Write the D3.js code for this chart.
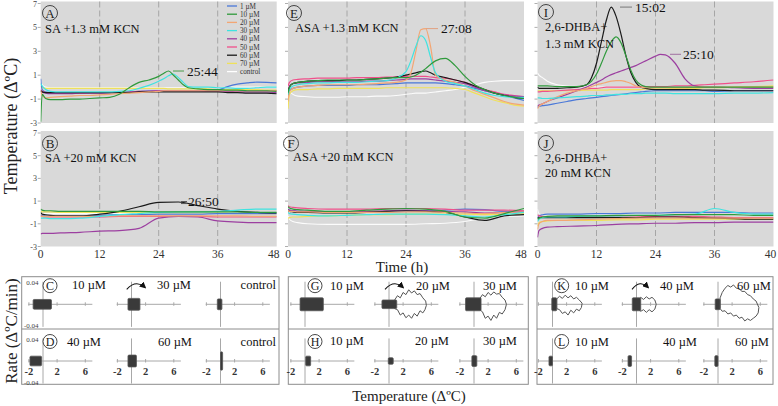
<!DOCTYPE html>
<html><head><meta charset="utf-8">
<script src="https://cdn.jsdelivr.net/npm/d3@7"></script>
<style>body{margin:0;background:#fff}svg{display:block}text{font-family:"Liberation Serif","Times New Roman",serif}</style>
</head><body><svg id="c" width="778" height="406"></svg>
<script>
// ---------- DATA ----------
const seriesNames = ["1 µM","10 µM","20 µM","30 µM","40 µM","50 µM","60 µM","70 µM","control"];
const seriesColors = ["#4a78d8","#2f9a3c","#f3a673","#3fe3e0","#9c3fa0","#f0508a","#1a1a1a","#efe15a","#ffffff"];
const timeFine = [0,0.3,1,2,4,6,8,10,12,14,16,18,20,22,24,25,26,27,28,29,30,32,34,36,38,40,42,44,46,48];
const timeCoarse = [0,0.3,1,2,4,8,12,16,20,24,28,32,36,40,44,48];
const timeI = [0,0.3,1,2,4,6,8,10,11,12,13,14,15,16,17,18,19,20,21,22,24,25,26,28,30,32,34,36,40,44,48];
const xTickValues = [0,12,24,36,48];
const xTickLabelsAB = ["0","12","24","36","48"];
const xTickLabelsIJ = ["0","12","24","36","40"];
const yTickValues = [7,5,3,1,-1,-3];

const valuesA = [
 [0.7,-0.2,-0.4,-0.45,-0.45,-0.45,-0.45,-0.45,-0.45,-0.45,-0.4,-0.4,-0.35,-0.3,-0.3,-0.3,-0.3,-0.3,-0.3,-0.3,-0.3,-0.3,-0.3,-0.25,0.05,0.25,0.35,0.42,0.4,0.35],
 [-2.9,-0.6,-0.95,-1.05,-1.05,-1.0,-1.0,-0.95,-0.9,-0.85,-0.6,-0.05,0.4,0.6,0.9,1.15,1.35,1.0,0.6,0.2,-0.05,-0.15,-0.2,-0.2,-0.25,-0.25,-0.3,-0.3,-0.3,-0.35],
 [-0.3,-0.7,-0.9,-0.85,-0.8,-0.75,-0.7,-0.7,-0.65,-0.6,-0.55,-0.5,-0.45,-0.4,-0.35,-0.3,-0.3,-0.3,-0.3,-0.3,-0.3,-0.3,-0.3,-0.3,-0.3,-0.3,-0.3,-0.3,-0.3,-0.3],
 [0.3,0.1,-0.2,-0.35,-0.4,-0.4,-0.4,-0.4,-0.4,-0.4,-0.35,-0.3,-0.1,0.15,0.5,0.7,0.95,1.1,0.8,0.4,0.05,0,0,-0.05,-0.05,-0.1,-0.1,-0.05,0,0],
 [-0.3,-0.4,-0.5,-0.55,-0.55,-0.55,-0.5,-0.5,-0.5,-0.45,-0.45,-0.4,-0.4,-0.35,-0.3,-0.3,-0.3,-0.3,-0.3,-0.3,-0.3,-0.3,-0.35,-0.35,-0.35,-0.4,-0.4,-0.4,-0.4,-0.45],
 [-0.2,-0.35,-0.45,-0.5,-0.5,-0.5,-0.5,-0.45,-0.45,-0.45,-0.4,-0.4,-0.35,-0.35,-0.3,-0.3,-0.3,-0.3,-0.3,-0.3,-0.3,-0.3,-0.3,-0.3,-0.3,-0.3,-0.3,-0.3,-0.3,-0.3],
 [-0.3,-0.4,-0.45,-0.45,-0.45,-0.45,-0.45,-0.45,-0.45,-0.45,-0.45,-0.45,-0.4,-0.4,-0.4,-0.4,-0.4,-0.4,-0.4,-0.4,-0.4,-0.4,-0.4,-0.4,-0.45,-0.45,-0.5,-0.5,-0.5,-0.55],
 [0.1,0,-0.1,-0.1,-0.1,-0.1,-0.1,-0.1,-0.1,-0.1,-0.1,-0.1,-0.1,-0.1,-0.1,-0.1,-0.15,-0.15,-0.15,-0.15,-0.15,-0.15,-0.15,-0.2,-0.2,-0.2,-0.2,-0.2,-0.25,-0.25],
 [0.5,0.2,0,-0.05,-0.05,-0.05,-0.05,-0.05,-0.05,-0.05,-0.05,-0.05,-0.05,-0.05,-0.05,-0.05,-0.05,-0.05,-0.05,-0.05,-0.05,-0.05,-0.05,-0.05,0,0,0,0,0,0]
];
const valuesB = [
 [-0.2,-0.3,-0.3,-0.3,-0.3,-0.3,-0.25,-0.2,-0.2,-0.15,-0.15,-0.15,-0.1,-0.1,-0.1,-0.1],
 [0.3,0.2,0.15,0.15,0.1,0.1,0.1,0.1,0.1,0.05,0.05,0.05,0.05,0.05,0,0],
 [-0.3,-0.35,-0.35,-0.35,-0.35,-0.35,-0.35,-0.3,-0.3,-0.3,-0.3,-0.3,-0.3,-0.3,-0.35,-0.35],
 [-0.5,-0.5,-0.5,-0.55,-0.55,-0.5,-0.35,-0.2,-0.1,0,0.05,0.05,0.1,0.2,0.3,0.3],
 [-1.9,-1.85,-1.85,-1.85,-1.8,-1.75,-1.65,-1.6,-1.4,-0.5,-0.35,-0.4,-0.75,-0.85,-0.9,-0.9],
 [-0.3,-0.35,-0.4,-0.4,-0.4,-0.4,-0.4,-0.35,-0.35,-0.35,-0.35,-0.35,-0.4,-0.4,-0.4,-0.4],
 [0,-0.15,-0.2,-0.25,-0.3,-0.3,-0.15,0.1,0.5,0.88,0.92,0.6,0.3,0.1,0,-0.05],
 [0.1,0.05,0.05,0.05,0,0,0,0,0,-0.05,-0.05,-0.05,-0.05,-0.1,-0.1,-0.1],
 [-0.1,-0.1,-0.1,-0.1,-0.1,-0.1,-0.1,-0.1,-0.1,-0.1,-0.1,-0.1,-0.1,-0.1,-0.1,-0.1]
];
const valuesE = [
 [-0.8,-0.3,-0.1,0,0.1,0.15,0.15,0.15,0.15,0.2,0.2,0.2,0.25,0.3,0.35,0.35,0.35,0.35,0.35,0.35,0.35,0.3,0.2,0.1,-0.1,-0.3,-0.5,-0.7,-0.9,-1.1],
 [-0.5,0,0.3,0.4,0.5,0.55,0.6,0.6,0.6,0.6,0.65,0.7,0.75,0.8,0.8,0.85,1.0,1.25,1.55,1.9,2.2,2.4,1.8,0.9,0.2,-0.2,-0.5,-0.7,-0.85,-0.95],
 [-1.2,-0.4,-0.1,0,0.1,0.15,0.2,0.2,0.2,0.2,0.25,0.3,0.35,0.4,0.6,1.2,3.0,4.8,4.9,3.4,1.0,0.6,0.4,0.1,-0.3,-0.6,-0.9,-1.2,-1.4,-1.5],
 [-0.6,-0.2,0.1,0.2,0.3,0.35,0.35,0.4,0.4,0.4,0.45,0.5,0.55,0.75,1.3,2.2,3.4,4.3,3.9,2.5,1.2,0.5,0.3,0.1,-0.2,-0.5,-0.7,-0.8,-0.85,-0.85],
 [-0.3,0.1,0.3,0.35,0.4,0.45,0.45,0.45,0.45,0.45,0.5,0.5,0.55,0.6,0.65,0.7,0.7,0.7,0.7,0.65,0.6,0.5,0.4,0.3,0,-0.3,-0.5,-0.65,-0.75,-0.8],
 [0.1,0.4,0.6,0.65,0.7,0.75,0.75,0.75,0.75,0.8,0.8,0.8,0.85,0.85,0.9,0.9,0.9,0.9,0.9,0.85,0.8,0.75,0.6,0.4,0.1,-0.2,-0.4,-0.6,-0.7,-0.8],
 [-0.6,0,0.3,0.4,0.5,0.55,0.55,0.55,0.6,0.6,0.65,0.7,0.75,0.85,1.0,1.1,1.2,1.3,1.35,1.2,1.0,0.8,0.6,0.4,0.1,-0.2,-0.5,-0.7,-0.85,-0.95],
 [-1.8,-0.6,-0.3,-0.2,-0.2,-0.15,-0.15,-0.1,-0.1,-0.1,-0.1,-0.1,-0.05,-0.05,-0.05,-0.05,-0.05,-0.05,-0.05,-0.05,-0.05,-0.05,-0.1,-0.2,-0.5,-0.8,-1.1,-1.3,-1.5,-1.6],
 [0.3,-0.3,-0.6,-0.75,-0.8,-0.85,-0.85,-0.85,-0.8,-0.8,-0.8,-0.75,-0.75,-0.7,-0.6,-0.55,-0.5,-0.5,-0.5,-0.45,-0.4,-0.3,-0.2,0,0.2,0.4,0.5,0.55,0.55,0.55]
];
const valuesF = [
 [0.3,0.2,0.15,0.1,0.1,0.05,0,0,0.05,0.1,0.15,0.2,0.3,0.25,0.1,0.1],
 [0.5,0.4,0.3,0.25,0.2,0.1,0.1,0.2,0.3,0.35,0.3,0.1,-0.4,-0.5,-0.1,0.35],
 [0.2,0.1,0.1,0.05,0.05,0,0,0,0,0.05,0.05,0,-0.05,-0.1,0,0.05],
 [0,-0.1,-0.15,-0.2,-0.25,-0.3,-0.25,-0.2,-0.15,-0.15,-0.15,-0.2,-0.3,-0.4,-0.2,0],
 [0.3,0.2,0.15,0.1,0.1,0.05,0.05,0.1,0.15,0.2,0.15,0.1,0.05,-0.05,0,0.05],
 [0.6,0.5,0.45,0.4,0.35,0.3,0.3,0.3,0.35,0.35,0.35,0.3,0.2,0.2,0.2,0.15],
 [0.2,0.1,0.05,0,0,-0.05,-0.05,0,0.1,0.15,0.1,0,-0.4,-0.7,-0.3,-0.2],
 [-0.5,-0.45,-0.4,-0.4,-0.35,-0.3,-0.25,-0.2,-0.2,-0.15,-0.15,-0.15,-0.15,-0.2,-0.15,-0.1],
 [-0.3,-0.6,-0.8,-0.9,-1.0,-1.05,-1.05,-1.05,-1.05,-1.05,-1.0,-0.95,-0.8,-0.5,-0.35,-0.3]
];
const valuesI = [
 [-1.7,-1.6,-1.55,-1.5,-1.35,-1.2,-1.05,-0.95,-0.9,-0.85,-0.8,-0.75,-0.7,-0.65,-0.6,-0.55,-0.5,-0.45,-0.4,-0.35,-0.3,-0.3,-0.3,-0.3,-0.3,-0.3,-0.3,-0.35,-0.3,-0.3,-0.3],
 [0.1,0.1,0.1,0.1,0.05,0.05,0.05,0.2,0.5,1.1,2.0,3.0,3.8,4.2,3.7,2.6,1.4,0.6,0.2,0.05,0,0,0,0,0,0,0,0,0,0,0],
 [-1.8,-1.6,-1.4,-1.2,-0.8,-0.5,-0.3,-0.1,0.05,0.2,0.3,0.4,0.5,0.55,0.55,0.45,0.3,0.1,0,-0.05,-0.05,-0.05,-0.05,-0.05,-0.05,0,0,0,0,0,0],
 [-0.9,-0.9,-0.95,-0.95,-0.9,-0.85,-0.8,-0.75,-0.7,-0.7,-0.7,-0.65,-0.65,-0.6,-0.6,-0.6,-0.55,-0.55,-0.55,-0.5,-0.5,-0.5,-0.5,-0.55,-0.55,-0.55,-0.55,-0.55,-0.5,-0.5,-0.45],
 [-1.6,-1.5,-1.4,-1.2,-0.9,-0.6,-0.3,0,0.2,0.4,0.6,0.85,1.05,1.2,1.35,1.5,1.65,1.8,2.0,2.2,2.6,2.75,2.7,2.0,0.7,0.1,0,0,-0.05,-0.1,-0.1],
 [-0.4,-0.4,-0.35,-0.35,-0.3,-0.25,-0.2,-0.15,-0.1,-0.1,-0.05,0,0,0,0,0,0,0,0,0.05,0.05,0.05,0.05,0.1,0.1,0.15,0.2,0.25,0.35,0.45,0.6],
 [0,-0.1,-0.1,-0.1,-0.1,-0.05,0,0.2,0.8,2.0,3.8,5.6,6.7,5.9,4.4,2.6,1.2,0.4,0,-0.1,-0.2,-0.2,-0.2,-0.2,-0.2,-0.2,-0.25,-0.25,-0.3,-0.3,-0.3],
 [-0.3,-0.3,-0.3,-0.3,-0.3,-0.3,-0.3,-0.25,-0.25,-0.25,-0.25,-0.25,-0.2,-0.2,-0.2,-0.2,-0.2,-0.2,-0.2,-0.15,-0.15,-0.15,-0.15,-0.1,-0.1,-0.1,-0.05,-0.05,0,0.05,0.1],
 [1.2,1.0,0.8,0.5,0.2,0.1,0.05,0,0,0,0,0,0,0,0,0,0,0,0,0,0,0,0,0,0,0,0,0,0,0,0]
];
const valuesJ = [
 [-0.5,-0.3,-0.2,-0.15,-0.15,-0.15,-0.1,-0.1,-0.05,-0.05,0,0,0,0,-0.05,-0.05],
 [-0.6,-0.5,-0.4,-0.35,-0.3,-0.3,-0.3,-0.25,-0.25,-0.25,-0.2,-0.2,-0.2,-0.2,-0.25,-0.25],
 [-1.5,-1.0,-0.8,-0.7,-0.7,-0.65,-0.6,-0.55,-0.5,-0.5,-0.5,-0.5,-0.5,-0.5,-0.5,-0.5],
 [-0.8,-0.6,-0.45,-0.4,-0.4,-0.35,-0.3,-0.3,-0.25,-0.25,-0.2,-0.15,0.35,0,-0.15,-0.15],
 [-2.2,-1.6,-1.4,-1.3,-1.25,-1.2,-1.15,-1.05,-1.0,-0.95,-0.95,-0.9,-0.9,-0.85,-0.85,-0.85],
 [-0.2,-0.3,-0.35,-0.4,-0.4,-0.4,-0.4,-0.4,-0.4,-0.35,-0.35,-0.35,-0.4,-0.45,-0.45,-0.45],
 [-0.5,-0.45,-0.45,-0.45,-0.45,-0.45,-0.45,-0.45,-0.45,-0.4,-0.4,-0.45,-0.5,-0.55,-0.6,-0.6],
 [-1.2,-0.9,-0.8,-0.75,-0.7,-0.7,-0.7,-0.65,-0.65,-0.6,-0.6,-0.6,-0.6,-0.6,-0.6,-0.6],
 [0.3,-0.1,-0.2,-0.2,-0.2,-0.2,-0.2,-0.2,-0.2,-0.2,-0.2,-0.2,-0.2,-0.2,-0.2,-0.2]
];

// phase portraits: dense blobs [Tmin, Tmax, rateMin, rateMax]
const blobsC = [[-1.4,1.2,-0.009,0.009],[-0.5,1.2,-0.011,0.011],[-0.45,0.2,-0.01,0.01]];
const blobsD = [[-1.85,-0.2,-0.009,0.009],[-0.5,0.7,-0.011,0.011],[0.0,0.3,-0.017,0.017]];
const blobsG = [[-0.7,2.6,-0.012,0.012],[-1.0,1.1,-0.008,0.008],[-1.2,1.0,-0.012,0.012]];
const blobsH = [[0.1,0.8,-0.009,0.009],[-0.1,0.6,-0.006,0.006],[-0.3,0.4,-0.01,0.01]];
const blobsK = [[-0.1,0.6,-0.012,0.012],[-0.6,0.6,-0.012,0.012],[-0.4,0.3,-0.01,0.01]];
const blobsL = [[-0.5,0,-0.009,0.009],[-1.2,-0.7,-0.01,0.01],[-0.45,0,-0.01,0.01]];
const loopG2 = [[0.8,0.008],[1.2,0.016],[1.6,0.012],[2.0,0.022],[2.4,0.018],[2.8,0.027],[3.2,0.021],[3.6,0.025],[4.0,0.018],[4.4,0.02],[4.8,0.012],[5.2,0.006],[5.3,-0.002],[5.1,-0.01],[4.8,-0.016],[4.4,-0.012],[4.0,-0.022],[3.6,-0.017],[3.2,-0.026],[2.8,-0.02],[2.4,-0.025],[2.0,-0.016],[1.6,-0.02],[1.2,-0.01],[0.8,-0.008]];
const loopG3 = [[0.8,0.01],[1.2,0.018],[1.6,0.014],[2.0,0.022],[2.4,0.017],[2.8,0.023],[3.2,0.019],[3.6,0.02],[4.0,0.013],[4.4,0.008],[4.6,0],[4.4,-0.01],[4.0,-0.018],[3.6,-0.015],[3.2,-0.026],[2.8,-0.02],[2.4,-0.03],[2.0,-0.022],[1.6,-0.026],[1.2,-0.014],[0.8,-0.01]];
const loopK1 = [[0.6,0.01],[1.0,0.015],[1.4,0.011],[1.8,0.017],[2.2,0.012],[2.6,0.016],[3.0,0.01],[3.4,0.013],[3.8,0.008],[4.2,0.002],[4.1,-0.006],[3.8,-0.012],[3.4,-0.009],[3.0,-0.016],[2.6,-0.011],[2.2,-0.02],[1.8,-0.014],[1.4,-0.017],[1.0,-0.01],[0.6,-0.008]];
const loopK2 = [[0.2,0.008],[0.6,0.013],[1.0,0.009],[1.4,0.014],[1.8,0.01],[2.2,0.013],[2.6,0.008],[2.8,0],[2.6,-0.009],[2.2,-0.014],[1.8,-0.01],[1.4,-0.015],[1.0,-0.01],[0.6,-0.013],[0.2,-0.008]];
const loopK3 = [[0.3,0.012],[0.6,0.022],[1.0,0.03],[1.4,0.035],[1.8,0.032],[2.2,0.036],[2.6,0.03],[3.0,0.029],[3.4,0.024],[3.8,0.024],[4.2,0.018],[4.6,0.016],[5.0,0.01],[5.4,0.006],[5.8,-0.006],[5.7,-0.016],[5.4,-0.022],[5.0,-0.026],[4.6,-0.03],[4.2,-0.027],[3.8,-0.031],[3.4,-0.024],[3.0,-0.026],[2.6,-0.02],[2.2,-0.022],[1.8,-0.016],[1.4,-0.018],[1.0,-0.012],[0.6,-0.013],[0.3,-0.008]];
const miniTickValues = [-2,2,6];
const miniRateTicks = [0.04,-0.04];

// ---------- DRAW ----------
const svg = d3.select("#c");
svg.append("rect").attr("width",778).attr("height",406).attr("fill","#fff");
const defs = svg.append("defs");
defs.append("marker").attr("id","arr").attr("viewBox","0 0 8 8").attr("refX",6).attr("refY",4)
  .attr("markerWidth",6).attr("markerHeight",6).attr("orient","auto")
  .append("path").attr("d","M0,0 L8,4 L0,8 z").attr("fill","#111");

const drawOrder = [8,7,0,5,4,6,2,3,1];
const colLeft = [40.7, 288, 537.5];
const colW = 236;
const rowGeom = [{top:1.5,bot:123,y7:3.5,yM3:123},{top:131,bot:246.5,y7:133,yM3:246.5}];
const panels = [
  {id:"A",col:0,row:0,times:timeFine,vals:valuesA,letter:[50,13],title:["SA +1.3 mM KCN"],tx:45,ty:[33]},
  {id:"B",col:0,row:1,times:timeCoarse,vals:valuesB,letter:[50,143.5],title:["SA +20 mM KCN"],tx:45,ty:[162]},
  {id:"E",col:1,row:0,times:timeFine,vals:valuesE,letter:[294,13],title:["ASA +1.3 mM KCN"],tx:295,ty:[32]},
  {id:"F",col:1,row:1,times:timeCoarse,vals:valuesF,letter:[291,143.5],title:["ASA +20 mM KCN"],tx:293,ty:[161]},
  {id:"I",col:2,row:0,times:timeI,vals:valuesI,letter:[546,12],title:["2,6-DHBA+","1.3 mM KCN"],tx:545,ty:[31,48]},
  {id:"J",col:2,row:1,times:timeCoarse,vals:valuesJ,letter:[546,143],title:["2,6-DHBA+","20 mM KCN"],tx:545,ty:[162,177]}
];

const scales = {};
panels.forEach(p=>{
  const g = rowGeom[p.row];
  const x0 = colLeft[p.col];
  const x = d3.scaleLinear().domain([0,48]).range([x0,x0+colW]);
  const y = d3.scaleLinear().domain([-3,7]).range([g.yM3,g.y7]);
  scales[p.id] = {x,y};
  const G = svg.append("g");
  G.append("rect").attr("x",x0).attr("y",g.top).attr("width",colW).attr("height",g.bot-g.top).attr("fill","#d9d9d9");
  defs.append("clipPath").attr("id","clip"+p.id).append("rect").attr("x",x0).attr("y",g.top).attr("width",colW).attr("height",g.bot-g.top);
  [12,24,36].forEach(t=>{
    G.append("line").attr("x1",x(t)).attr("x2",x(t)).attr("y1",g.top).attr("y2",g.bot)
      .attr("stroke","#a6a6a6").attr("stroke-width",1).attr("stroke-dasharray","6,3");
  });
  // y ticks
  yTickValues.forEach(v=>{
    G.append("line").attr("x1",x0-3).attr("x2",x0).attr("y1",y(v)).attr("y2",y(v)).attr("stroke","#999").attr("stroke-width",0.8);
    if(p.col===0){
      G.append("text").attr("x",37).attr("y",y(v)+3).attr("text-anchor","end").attr("font-size",8).attr("fill","#444").text(v);
    }
  });
  // x tick labels
  if(p.row===1){
    const labs = p.col===2 ? xTickLabelsIJ : xTickLabelsAB;
    xTickValues.forEach((t,i)=>{
      let xx = x(t); if(i===4) xx -= 3;
      G.append("text").attr("x",xx).attr("y",258).attr("text-anchor","middle").attr("font-size",11.5).attr("fill","#333").text(labs[i]);
    });
  }
  // lines
  const L = G.append("g").attr("clip-path","url(#clip"+p.id+")");
  const line = d3.line().x((d,i)=>x(p.times[i])).y(d=>y(d)).curve(d3.curveMonotoneX);
  drawOrder.forEach(si=>{
    L.append("path").attr("d",line(p.vals[si])).attr("fill","none").attr("stroke",seriesColors[si])
      .attr("stroke-width",si===8?1.1:1.2).attr("stroke-opacity",si===8?0.9:1);
  });
  // letter circle
  G.append("circle").attr("cx",p.letter[0]).attr("cy",p.letter[1]).attr("r",7.5).attr("fill","none").attr("stroke","#333").attr("stroke-width",0.9);
  G.append("text").attr("x",p.letter[0]).attr("y",p.letter[1]+4.5).attr("text-anchor","middle").attr("font-size",13).attr("fill","#222").text(p.id);
  p.title.forEach((t,i)=>{
    G.append("text").attr("x",p.tx).attr("y",p.ty[i]).attr("font-size",12.5).attr("fill","#111").text(t);
  });
});

// annotations
function annot(id, t, v, text, lx1, lx2, tx, col, dbl){
  const s = scales[id];
  const yy = s.y(v);
  svg.append("line").attr("x1",lx1).attr("x2",lx2).attr("y1",yy).attr("y2",yy).attr("stroke",col).attr("stroke-width",1);
  if(dbl) svg.append("line").attr("x1",lx1).attr("x2",lx2).attr("y1",yy+2).attr("y2",yy+2).attr("stroke",col).attr("stroke-width",1);
  svg.append("text").attr("x",tx).attr("y",yy+4.5).attr("font-size",13.5).attr("fill","#111").text(text);
}
annot("A",25.7,1.35,"25:44",173,184,187,"#4a9a4a",false);
annot("B",26.8,0.96,"26:50",181,187,188,"#555",true);
annot("E",27.1,4.9,"27:08",426,438,441,"#e0a080",false);
annot("I",15,6.7,"15:02",620,632,635,"#777",false);
annot("I",25.2,2.75,"25:10",670,681,683,"#a070a0",false);

// legend in A
seriesNames.forEach((n,i)=>{
  const yy = 6 + i*8.2;
  svg.append("line").attr("x1",227).attr("x2",237).attr("y1",yy).attr("y2",yy).attr("stroke",seriesColors[i]).attr("stroke-width",1.3);
  svg.append("text").attr("x",240).attr("y",yy+2.5).attr("font-size",7.2).attr("fill","#333").text(n);
});

// axis titles
svg.append("text").attr("transform","translate(17,126) rotate(-90)").attr("text-anchor","middle").attr("font-size",18).attr("fill","#222").text("Temperature (ΔºC)");
svg.append("text").attr("transform","translate(17,331) rotate(-90)").attr("text-anchor","middle").attr("font-size",17).attr("fill","#222").text("Rate (ΔºC/min)");
svg.append("text").attr("x",402).attr("y",272).attr("text-anchor","middle").attr("font-size",15).attr("fill","#222").text("Time (h)");
svg.append("text").attr("x",409).attr("y",401).attr("text-anchor","middle").attr("font-size",15).attr("fill","#222").text("Temperature (ΔºC)");

// ---------- bottom phase plots ----------
const boxes = [{x:21.7,w:257.3},{x:288.3,w:240},{x:537,w:236}];
const boxTop = 276.7, boxMid = 329, boxBot = 384.3;
const miniZeroX = [[43,131.5,220.5],[305,389,474],[552.5,636.5,718]];
const miniRowY = [304.3,361];
const pxPerDeg = 7.05, pxHalfRate = 21.5;
const rowsData = [
  {box:0,row:0,blobs:blobsC,loops:[null,null,null],labels:["10 µM","30 µM","control"],lx:[[72,"start"],[157,"start"],[276,"end"]],ly:289,letter:"C",arrow:[126.7,145]},
  {box:0,row:1,blobs:blobsD,loops:[null,null,null],labels:["40 µM","60 µM","control"],lx:[[67,"start"],[158,"start"],[276,"end"]],ly:346,letter:"D"},
  {box:1,row:0,blobs:blobsG,loops:[null,loopG2,loopG3],labels:["10 µM","20 µM","30 µM"],lx:[[330,"start"],[416,"start"],[483,"start"]],ly:290,letter:"G",arrow:[385,403]},
  {box:1,row:1,blobs:blobsH,loops:[null,null,null],labels:["10 µM","20 µM","30 µM"],lx:[[330,"start"],[415,"start"],[483,"start"]],ly:345,letter:"H"},
  {box:2,row:0,blobs:blobsK,loops:[loopK1,loopK2,loopK3],labels:["10 µM","40 µM","60 µM"],lx:[[575,"start"],[660,"start"],[737,"start"]],ly:290,letter:"K",arrow:[632,648]},
  {box:2,row:1,blobs:blobsL,loops:[null,null,null],labels:["10 µM","40 µM","60 µM"],lx:[[575,"start"],[663,"start"],[735,"start"]],ly:346,letter:"L"}
];
boxes.forEach(b=>{
  svg.append("rect").attr("x",b.x).attr("y",boxTop).attr("width",b.w).attr("height",boxBot-boxTop).attr("fill","none").attr("stroke","#8c8c8c").attr("stroke-width",1);
  svg.append("line").attr("x1",b.x).attr("x2",b.x+b.w).attr("y1",boxMid).attr("y2",boxMid).attr("stroke","#8c8c8c").attr("stroke-width",1);
});
rowsData.forEach(r=>{
  const cy = miniRowY[r.row];
  for(let k=0;k<3;k++){
    const z = miniZeroX[r.box][k];
    const xs = d3.scaleLinear().domain([0,1]).range([z,z+pxPerDeg]);
    const ys = d3.scaleLinear().domain([-0.04,0.04]).range([cy+pxHalfRate,cy-pxHalfRate]);
    const G = svg.append("g");
    G.append("line").attr("x1",xs(-2.1)).attr("x2",xs(7)).attr("y1",ys(0)).attr("y2",ys(0)).attr("stroke","#a8a8a8").attr("stroke-width",1);
    G.append("line").attr("x1",xs(0)).attr("x2",xs(0)).attr("y1",ys(0.042)).attr("y2",ys(-0.042)).attr("stroke","#a8a8a8").attr("stroke-width",1);
    miniTickValues.forEach(t=>{
      G.append("line").attr("x1",xs(t)).attr("x2",xs(t)).attr("y1",ys(0)-2).attr("y2",ys(0)+1.5).attr("stroke","#a8a8a8").attr("stroke-width",1);
      if(r.row===1){
        G.append("text").attr("x",xs(t)).attr("y",375).attr("text-anchor","middle").attr("font-size",10.5).attr("font-weight","bold").attr("fill","#333").text(t);
      }
    });
    if(r.box===0 && k===0){
      miniRateTicks.forEach(v=>{
        G.append("text").attr("x",38.5).attr("y",ys(v)+2.5).attr("text-anchor","end").attr("font-size",7).attr("fill","#444").text(v);
      });
    }
    const b = r.blobs[k];
    const lp = r.loops[k];
    if(lp){
      G.append("path").attr("d",d3.line().x(d=>xs(d[0])).y(d=>ys(d[1])).curve(d3.curveLinearClosed)(lp))
        .attr("fill","none").attr("stroke","#555").attr("stroke-width",1);
    }
    G.append("rect").attr("x",xs(b[0])).attr("y",ys(b[3])).attr("width",xs(b[1])-xs(b[0])).attr("height",ys(b[2])-ys(b[3]))
      .attr("fill","#3a3a3a").attr("stroke","#555").attr("stroke-width",0.8).attr("rx",1);
    const lab = r.lx[k];
    G.append("text").attr("x",lab[0]).attr("y",r.ly).attr("text-anchor",lab[1]).attr("font-size",12.5).attr("fill","#111").text(r.labels[k]);
  }
  // letter circle
  const lcx = [50,315,561.7][r.box];
  const lcy = r.row===0 ? 285.7 : 341.5;
  svg.append("circle").attr("cx",lcx).attr("cy",lcy).attr("r",7).attr("fill","#fff").attr("stroke","#333").attr("stroke-width",0.9);
  svg.append("text").attr("x",lcx).attr("y",lcy+4.2).attr("text-anchor","middle").attr("font-size",12).attr("fill","#222").text(r.letter);
  if(r.arrow){
    const [a1,a2] = r.arrow;
    svg.append("path").attr("d",`M${a1},${cy-15} Q${(a1+a2)/2},${cy-25} ${a2},${cy-17}`)
      .attr("fill","none").attr("stroke","#111").attr("stroke-width",1.1).attr("marker-end","url(#arr)");
  }
});
</script></body></html>
